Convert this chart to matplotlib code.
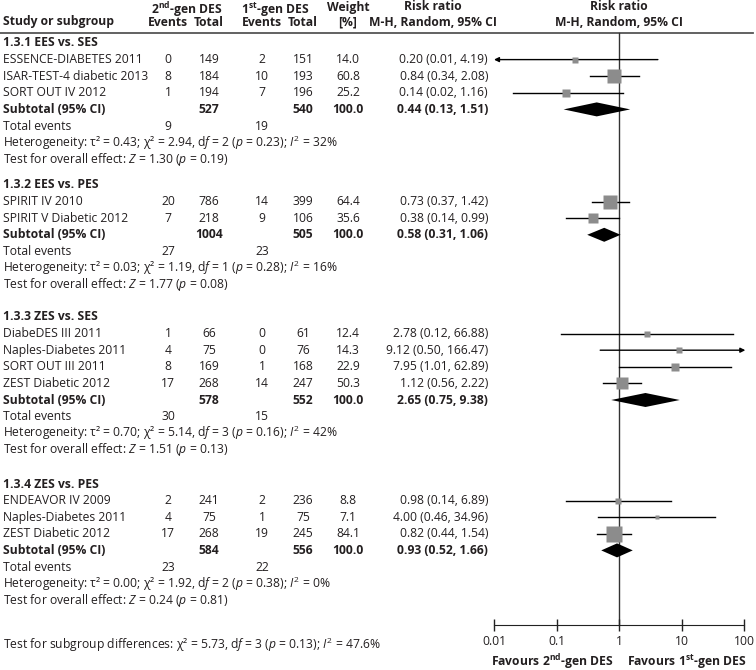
import matplotlib
matplotlib.use("Agg")
from matplotlib import pyplot as plt
from matplotlib.ticker import NullLocator
import numpy as np

# data
groups = ["1.3.1 EES vs. SES", "1.3.2 EES vs. PES", "1.3.3 ZES vs. SES", "1.3.4 ZES vs. PES"]
studies = [
    ["ESSENCE-DIABETES 2011", "ISAR-TEST-4 diabetic 2013", "SORT OUT IV 2012"],
    ["SPIRIT IV 2010", "SPIRIT V Diabetic 2012"],
    ["DiabeDES III 2011", "Naples-Diabetes 2011", "SORT OUT III 2011", "ZEST Diabetic 2012"],
    ["ENDEAVOR IV 2009", "Naples-Diabetes 2011", "ZEST Diabetic 2012"],
]
events_2nd = [[0, 8, 1], [20, 7], [1, 4, 8, 17], [2, 4, 17]]
total_2nd = [[149, 184, 194], [786, 218], [66, 75, 169, 268], [241, 75, 268]]
events_1st = [[2, 10, 7], [14, 9], [0, 0, 1, 14], [2, 1, 19]]
total_1st = [[151, 193, 196], [399, 106], [61, 76, 168, 247], [236, 75, 245]]
weights = [[14.0, 60.8, 25.2], [64.4, 35.6], [12.4, 14.3, 22.9, 50.3], [8.8, 7.1, 84.1]]
rr = [[0.20, 0.84, 0.14], [0.73, 0.38], [2.78, 9.12, 7.95, 1.12], [0.98, 4.00, 0.82]]
rr_lo = [[0.01, 0.34, 0.02], [0.37, 0.14], [0.12, 0.50, 1.01, 0.56], [0.14, 0.46, 0.44]]
rr_hi = [[4.19, 2.08, 1.16], [1.42, 0.99], [66.88, 166.47, 62.89, 2.22], [6.89, 34.96, 1.54]]

sub_total_2nd = [527, 1004, 578, 584]
sub_total_1st = [540, 505, 552, 556]
sub_events_2nd = [9, 27, 30, 23]
sub_events_1st = [19, 23, 15, 22]
sub_rr = [0.44, 0.58, 2.65, 0.93]
sub_lo = [0.13, 0.31, 0.75, 0.52]
sub_hi = [1.51, 1.06, 9.38, 1.66]
het_tau2 = [0.43, 0.03, 0.70, 0.00]
het_chi2 = [2.94, 1.19, 5.14, 1.92]
het_df = [2, 1, 3, 2]
het_p = [0.23, 0.28, 0.16, 0.38]
het_i2 = [32, 16, 42, 0]
z_val = [1.30, 1.77, 1.51, 0.24]
z_p = [0.19, 0.08, 0.13, 0.81]

axis_ticks = [0.01, 0.1, 1, 10, 100]
axis_labels = ["0.01", "0.1", "1", "10", "100"]

plt.rcParams['font.family'] = ['Open Sans', 'DejaVu Sans']
plt.rcParams['mathtext.fontset'] = 'custom'
plt.rcParams['mathtext.rm'] = 'Open Sans'
plt.rcParams['mathtext.it'] = 'Open Sans:italic'
plt.rcParams['mathtext.bf'] = 'Open Sans:bold'

W, H = 756, 670
FS = 8.7
TXT = '#231f20'
fig = plt.figure(figsize=(W / 100, H / 100), dpi=100)

# text layer in pixel coordinates
ax = fig.add_axes([0, 0, 1, 1])
ax.set_xlim(0, W)
ax.set_ylim(H, 0)
ax.axis('off')

# forest layer, log scale, same pixel rows
fx = fig.add_axes([494 / W, 0, 250 / W, 1])
fx.set_xscale('log')
fx.set_xlim(0.01, 100)
fx.set_ylim(H, 0)
fx.patch.set_alpha(0)
for s in ['top', 'left', 'right']:
    fx.spines[s].set_visible(False)
fx.spines['bottom'].set_position(('data', 625))
fx.spines['bottom'].set_color('#222')
fx.set_yticks([])
fx.set_xticks(axis_ticks, axis_labels)
fx.xaxis.set_minor_locator(NullLocator())
fx.tick_params(axis='x', direction='inout', length=9, width=1, color='#222',
               labelsize=FS, labelcolor=TXT, pad=3)

# column x positions (pixels)
x_name, x_ev2, x_n2, x_ev1, x_n1, x_w, x_rr = 3, 168, 209, 262, 303, 348, 488


def put(x, y, s, ha='center', va='center', bold=False, size=FS):
    ax.text(x, y, s, ha=ha, va=va, fontsize=size, color=TXT,
            fontweight='bold' if bold else 'normal')


# header
put(187, 14, r"2$^{\mathbf{nd}}$-gen DES", va='baseline', bold=True)
put(275, 14, r"1$^{\mathbf{st}}$-gen DES", va='baseline', bold=True)
put(348, 7, "Weight", bold=True)
put(433, 7, "Risk ratio", bold=True)
put(619, 7, "Risk ratio", bold=True)
put(x_name, 22, "Study or subgroup", ha='left', bold=True)
put(x_ev2, 22, "Events", bold=True)
put(x_n2, 22, "Total", bold=True)
put(x_ev1, 22, "Events", bold=True)
put(x_n1, 22, "Total", bold=True)
put(x_w, 22, "[%]", bold=True)
put(433, 22, "M-H, Random, 95% CI", bold=True)
put(619, 22, "M-H, Random, 95% CI", bold=True)
ax.plot([0, 753], [33, 33], color='#555', lw=1.3)

fx.plot([1, 1], [33, 625], color='#333', lw=1, zorder=1)

block_top = [43, 185, 317, 484]
step = 16.6

for g in range(len(groups)):
    y = block_top[g]
    put(x_name, y, groups[g], ha='left', bold=True)
    for i in range(len(studies[g])):
        y += step
        put(x_name, y, studies[g][i], ha='left')
        put(x_ev2, y, str(events_2nd[g][i]))
        put(x_n2, y, str(total_2nd[g][i]))
        put(x_ev1, y, str(events_1st[g][i]))
        put(x_n1, y, str(total_1st[g][i]))
        put(x_w, y, "%.1f" % weights[g][i])
        put(x_rr, y, "%.2f (%.2f, %.2f)" % (rr[g][i], rr_lo[g][i], rr_hi[g][i]), ha='right')
        lo, hi = rr_lo[g][i], rr_hi[g][i]
        if lo <= 0.01:
            fx.annotate('', xy=(0.01, y), xytext=(hi, y), annotation_clip=False,
                        arrowprops=dict(arrowstyle='-|>', color='k', lw=1,
                                        mutation_scale=7, shrinkA=0, shrinkB=0))
        elif hi >= 100:
            fx.annotate('', xy=(105, y), xytext=(lo, y), annotation_clip=False,
                        arrowprops=dict(arrowstyle='-|>', color='k', lw=1,
                                        mutation_scale=7, shrinkA=0, shrinkB=0))
        else:
            fx.plot([lo, hi], [y, y], color='k', lw=1, zorder=2)
        fx.plot(rr[g][i], y, marker='s', ms=1.26 * np.sqrt(weights[g][i]),
                color='#8c8c8c', mec='none', zorder=3)
    y += step
    put(x_name, y, "Subtotal (95% CI)", ha='left', bold=True)
    put(x_n2, y, str(sub_total_2nd[g]), bold=True)
    put(x_n1, y, str(sub_total_1st[g]), bold=True)
    put(x_w, y, "100.0", bold=True)
    put(x_rr, y, "%.2f (%.2f, %.2f)" % (sub_rr[g], sub_lo[g], sub_hi[g]), ha='right', bold=True)
    fx.fill([sub_lo[g], sub_rr[g], sub_hi[g], sub_rr[g]], [y, y - 7, y, y + 7],
            color='k', lw=0, zorder=3)
    y += step
    put(x_name, y, "Total events", ha='left')
    put(x_ev2, y, str(sub_events_2nd[g]))
    put(x_ev1, y, str(sub_events_1st[g]))
    y += step
    put(x_name, y, "Heterogeneity: τ² = %.2f; χ² = %.2f, d$\\mathit{f}$ = %d ($\\mathit{p}$ = %.2f); "
        "$\\mathit{I}^{2}$ = %d%%" % (het_tau2[g], het_chi2[g], het_df[g], het_p[g], het_i2[g]), ha='left')
    y += step
    put(x_name, y, "Test for overall effect: $\\mathit{Z}$ = %.2f ($\\mathit{p}$ = %.2f)"
        % (z_val[g], z_p[g]), ha='left')

put(x_name, 645, "Test for subgroup differences: χ² = 5.73, d$\\mathit{f}$ = 3 ($\\mathit{p}$ = 0.13); "
    "$\\mathit{I}^{2}$ = 47.6%", ha='left')
put(613, 662, r"Favours 2$^{\mathbf{nd}}$-gen DES", ha='right', bold=True)
put(627, 662, r"Favours 1$^{\mathbf{st}}$-gen DES", ha='left', bold=True)

fig.savefig("out.png", dpi=100)
